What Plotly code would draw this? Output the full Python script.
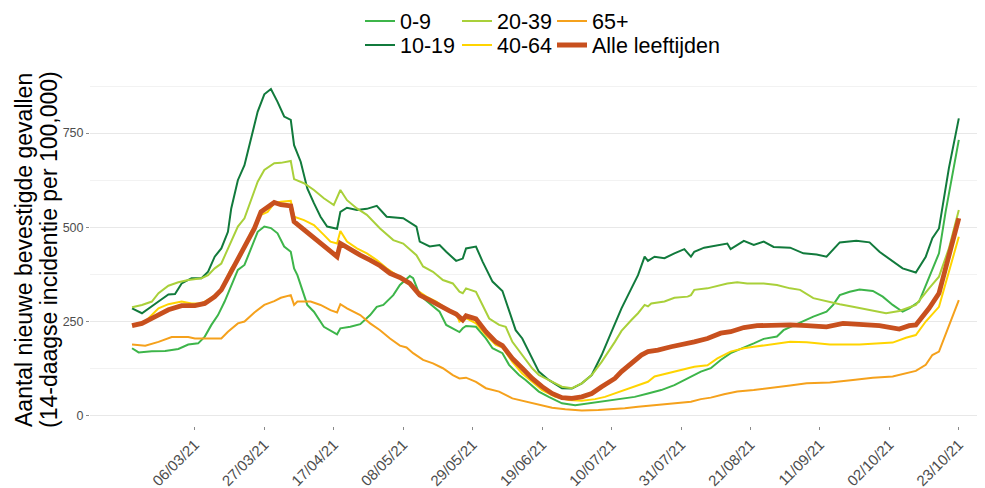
import pandas as pd
import plotly.graph_objects as go

start = pd.Timestamp("2021-02-15")

days_09 = [0,2,6,10,14,17,20,22,24,26,28,30,32,34,36,38,40,42,44,46,48,49,50,53,55,58,62,63,66,69,72,74,76,79,81,84,85,87,90,93,95,97,99,100,101,104,107,109,112,114,117,119,123,126,130,134,138,142,145,148,152,156,160,164,168,172,175,178,181,185,188,191,195,197,201,206,210,212,214,217,220,224,227,230,233,235,238,241,244,246,248,250]
vals_09 = [179,168,171,172,177,189,192,210,241,267,303,347,387,400,444,488,502,498,484,449,435,391,373,294,276,236,216,232,236,243,267,289,294,320,347,371,365,320,298,276,241,232,222,232,238,236,205,179,166,135,108,95,64,50,33,28,33,37,42,46,50,59,68,81,99,117,126,148,166,180,192,204,210,227,243,263,276,294,320,329,335,331,316,294,276,285,303,365,431,541,639,732]

days_1019 = [0,3,8,11,13,15,18,21,23,25,27,29,30,32,34,36,38,40,42,44,46,48,49,51,53,55,57,59,62,63,65,68,71,74,77,82,86,87,90,93,95,98,100,101,104,106,109,112,114,116,118,121,123,126,130,133,136,139,142,145,148,151,153,155,156,158,161,164,167,169,170,173,177,180,181,185,188,191,194,199,203,207,210,214,219,223,226,230,233,237,240,242,244,247,250]
vals_1019 = [285,272,303,322,323,351,365,365,382,422,444,488,550,625,665,736,807,853,867,833,794,785,718,674,603,564,528,502,496,541,552,546,549,557,528,524,502,462,449,453,435,411,417,444,449,409,356,331,276,227,205,152,117,95,73,72,86,108,161,223,285,338,373,422,411,422,418,431,442,422,435,446,453,457,442,464,453,462,448,446,431,428,422,460,464,460,435,409,391,380,422,471,497,657,789]

days_2039 = [0,3,6,8,11,14,17,21,23,25,27,29,32,34,36,38,40,43,45,48,49,52,55,58,61,63,65,68,71,75,79,82,86,88,91,94,97,99,100,101,104,106,108,111,113,115,118,121,123,126,130,133,136,139,142,146,148,151,153,155,156,157,161,164,168,169,170,174,177,180,183,186,191,195,199,202,206,210,214,218,223,228,232,237,241,244,247,250]
vals_2039 = [288,294,303,325,345,354,360,365,373,391,404,444,502,524,572,621,652,670,671,676,628,617,599,577,559,599,572,550,533,497,466,457,426,396,382,360,351,329,325,338,329,294,258,241,236,196,161,126,108,95,77,73,86,108,143,196,225,254,272,294,290,298,303,313,316,320,334,338,345,351,354,351,351,347,338,334,312,303,296,289,281,272,278,294,338,369,444,546]

days_4064 = [0,4,8,11,15,18,21,24,27,30,33,36,39,41,43,45,48,49,52,55,58,60,62,63,65,68,71,74,77,80,83,86,89,92,95,98,99,101,104,107,110,112,115,118,121,124,128,132,136,140,143,146,149,152,156,158,162,166,170,174,177,181,185,188,192,196,199,204,211,220,226,230,234,237,240,244,247,250]
vals_4064 = [241,250,285,296,303,298,298,313,334,391,426,488,533,541,564,568,570,528,519,506,480,462,457,490,462,444,431,413,391,373,360,334,316,303,285,272,250,259,245,214,188,181,143,112,90,68,50,42,40,44,50,59,68,77,90,104,112,121,130,134,152,170,179,183,188,194,196,195,189,189,192,194,207,214,250,289,382,475]

days_65 = [0,4,8,12,17,19,23,27,29,32,34,37,40,43,45,48,49,50,54,57,60,62,63,65,69,72,75,78,81,83,85,88,91,94,97,99,101,104,107,111,115,119,123,127,131,136,141,146,149,153,158,163,169,172,175,179,183,188,193,199,204,211,218,224,230,234,237,240,242,244,247,250]
vals_65 = [189,186,196,209,209,205,205,205,223,245,250,274,294,304,313,320,294,303,303,294,280,274,296,285,267,245,227,205,186,181,166,148,139,126,108,99,101,90,73,64,46,37,28,21,17,14,15,17,20,24,28,33,37,44,48,57,64,68,73,80,86,88,95,101,104,112,119,135,161,170,236,307]

days_all = [0,3,7,11,15,19,22,25,27,30,33,34,37,39,41,43,45,48,49,52,55,58,61,62,63,66,69,72,75,78,81,84,87,90,93,96,98,100,101,104,107,110,112,115,118,121,124,127,130,133,136,139,142,146,148,151,154,156,159,163,167,170,174,178,181,185,189,193,199,204,210,215,221,226,232,235,237,241,244,247,250]
vals_all = [239,245,263,281,292,292,298,316,334,382,431,444,497,541,555,566,560,557,515,493,471,449,428,422,457,440,426,413,398,378,367,351,320,307,291,278,270,254,265,257,223,196,186,152,126,99,77,59,48,46,50,59,77,99,117,139,161,170,174,183,189,196,205,219,223,234,239,241,241,239,236,245,241,239,230,239,241,285,325,426,524]

tick_dates = ["2021-03-06","2021-03-27","2021-04-17","2021-05-08","2021-05-29","2021-06-19",
              "2021-07-10","2021-07-31","2021-08-21","2021-09-11","2021-10-02","2021-10-23"]
tick_labels = ["06/03/21","27/03/21","17/04/21","08/05/21","29/05/21","19/06/21",
               "10/07/21","31/07/21","21/08/21","11/09/21","02/10/21","23/10/21"]

series = [
    ("0-9", days_09, vals_09, "#3DB54A", 2),
    ("10-19", days_1019, vals_1019, "#117A3C", 2),
    ("20-39", days_2039, vals_2039, "#A9D03A", 2),
    ("40-64", days_4064, vals_4064, "#FFD400", 2),
    ("65+", days_65, vals_65, "#F5A11C", 2),
    ("Alle leeftijden", days_all, vals_all, "#C8501E", 4.8),
]

# the page body adds an 8px offset, so the figure is 8px smaller than the window
W, H = 977, 480
font_family = "Liberation Sans, Arial, sans-serif"

# legend grid in figure pixels: (left of legend box, centre y)
legend_pos = [(352, 13), (352, 37), (449, 13), (449, 37), (544, 13), (544, 37)]

fig = go.Figure()
layout_legends = {}
for i, (name, d, v, col, w) in enumerate(series):
    lg = "legend" if i == 0 else f"legend{i+1}"
    x = start + pd.to_timedelta(d, unit="D")
    fig.add_trace(go.Scatter(x=x, y=v, mode="lines", name=name, showlegend=True,
                             line=dict(color=col, width=w), legend=lg))
    lx, ly = legend_pos[i]
    layout_legends[lg] = dict(
        xref="container", yref="container",
        x=lx / W, y=1 - ly / H, xanchor="left", yanchor="middle",
        orientation="h", font=dict(size=21.5, color="#000", family=font_family),
        bgcolor="rgba(0,0,0,0)", itemwidth=30, itemclick=False,
    )

fig.update_layout(
    width=W, height=H, showlegend=True,
    margin=dict(l=82, r=0, t=65, b=62, autoexpand=False),
    plot_bgcolor="white", paper_bgcolor="white",
    font=dict(family=font_family),
    xaxis=dict(
        type="date", automargin=False,
        range=["2021-02-02 07:00", "2021-10-30 22:00"],
        tickvals=tick_dates, ticktext=tick_labels, tickangle=-45,
        tickfont=dict(size=15, color="#4d4d4d"),
        ticks="outside", ticklen=3, tickcolor="#8a8a8a",
        showgrid=False, zeroline=False, showline=False,
    ),
    yaxis=dict(
        automargin=False,
        range=[-27.3, 909.5],
        tickvals=[0, 250, 500, 750], ticktext=["0", "250", "500", "750"],
        tickfont=dict(size=12.5, color="#4d4d4d"),
        ticks="outside", ticklen=3, tickcolor="#8a8a8a",
        showgrid=True, gridcolor="#e8e8e8", gridwidth=1,
        zeroline=False, showline=False,
        minor=dict(tickvals=[125, 375, 625, 875], showgrid=True,
                   gridcolor="#f2f2f2", gridwidth=1, ticks=""),
    ),
    annotations=[
        dict(text="Aantal nieuwe bevestigde gevallen", textangle=-90,
             xref="paper", yref="paper", x=(24 - 90) / 895, y=0.4986,
             xanchor="center", yanchor="middle", showarrow=False,
             font=dict(size=23, color="#000", family=font_family)),
        dict(text="(14-daagse incidentie per 100,000)", textangle=-90,
             xref="paper", yref="paper", x=(49 - 90) / 895, y=0.4986,
             xanchor="center", yanchor="middle", showarrow=False,
             font=dict(size=23, color="#000", family=font_family)),
    ],
    **layout_legends,
)

fig.write_html("out.html")
